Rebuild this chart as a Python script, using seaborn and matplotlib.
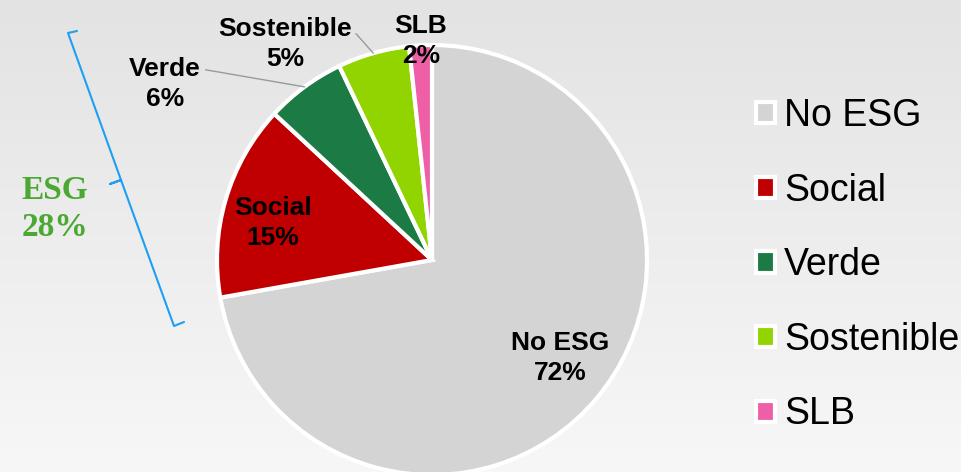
import numpy as np
import matplotlib
matplotlib.use("Agg")
import matplotlib.pyplot as plt
from matplotlib.lines import Line2D
import seaborn as sns

# data
categories = ["No ESG", "Social", "Verde", "Sostenible", "SLB"]
shares = [72.2, 14.7, 6.0, 5.4, 1.7]
slice_colors = ["#d4d4d4", "#c00000", "#1c7a45", "#92d400", "#ee5fa8"]
esg_label = "ESG\n28%"

W, H = 962, 472
CX, CY, R = 432, 260, 215  # pie centre / radius in pixels (top-left origin)

# label placement in pixels; inside=True -> no leader line
label_pos = {
    "No ESG": (560, 358, True),
    "Social": (273, 223, True),
    "Verde": (165, 84, False),
    "Sostenible": (285, 44, False),
    "SLB": (421, 41, True),
}


def px_to_data(x, y):
    return (x - CX) / R, (CY - y) / R


def px_to_fig(x, y):
    return x / W, 1 - y / H


sns.set_theme(style="white")
plt.rcParams["font.family"] = ["Liberation Sans", "DejaVu Sans"]
plt.rcParams["text.color"] = "black"

fig = plt.figure(figsize=(W / 100, H / 100), dpi=100)

# soft grey backdrop
bg = fig.add_axes([0, 0, 1, 1], zorder=-10)
grad = np.linspace(0, 1, 256).reshape(-1, 1)
bg.imshow(grad, aspect="auto", cmap=sns.blend_palette(["#e3e3e3", "#f7f7f7"], as_cmap=True),
          extent=[0, 1, 0, 1])
bg.axis("off")

left, top = px_to_fig(CX - R, CY - R)
right, bottom = px_to_fig(CX + R, CY + R)
ax = fig.add_axes([left, bottom, right - left, top - bottom])
ax.patch.set_alpha(0)

palette = sns.color_palette(slice_colors)
wedges, _ = ax.pie(
    shares,
    colors=palette,
    startangle=90,
    counterclock=False,
    wedgeprops=dict(edgecolor="white", linewidth=3),
)
for w in wedges:
    w.set_clip_on(False)
ax.set_xlim(-1, 1)
ax.set_ylim(-1, 1)
ax.set_aspect("equal")
ax.axis("off")

for w, name, val in zip(wedges, categories, shares):
    px, py, inside = label_pos[name]
    tx, ty = px_to_data(px, py)
    text = f"{name}\n{val:.0f}%"
    if inside:
        ax.text(tx, ty, text, ha="center", va="center", fontsize=19,
                fontweight="bold", color="black", linespacing=1.3)
    else:
        mid = np.deg2rad((w.theta1 + w.theta2) / 2)
        ax.annotate(
            text,
            xy=(np.cos(mid), np.sin(mid)),
            xytext=(tx, ty),
            ha="center", va="center", fontsize=19, fontweight="bold",
            linespacing=1.3, annotation_clip=False,
            arrowprops=dict(arrowstyle="-", color="#9a9a9a", lw=1,
                            relpos=(1, 0.78), shrinkA=1, shrinkB=0),
        )

# bracket grouping the ESG slices
brace = [(77, 31), (68, 33), (121, 180), (110, 184), (121, 180), (174, 326), (184, 322)]
bx, by = zip(*[px_to_fig(x, y) for x, y in brace])
fig.add_artist(Line2D(bx, by, color="#1e9ff2", lw=1.5, transform=fig.transFigure))

ex, ey = px_to_fig(55, 209)
fig.text(ex, ey, esg_label, ha="center", va="center", fontsize=24,
         fontweight="bold", color="#4aa833", family=["Liberation Serif"],
         linespacing=1.25)

lx, ly = px_to_fig(756, 98)
fig.legend(
    wedges, categories,
    loc="upper left", bbox_to_anchor=(lx, ly),
    frameon=False, fontsize=27, labelcolor="black",
    handlelength=0.5, handleheight=0.5, handletextpad=0.25,
    labelspacing=1.03, borderpad=0, borderaxespad=0,
)

fig.savefig("out.png", dpi=100)
